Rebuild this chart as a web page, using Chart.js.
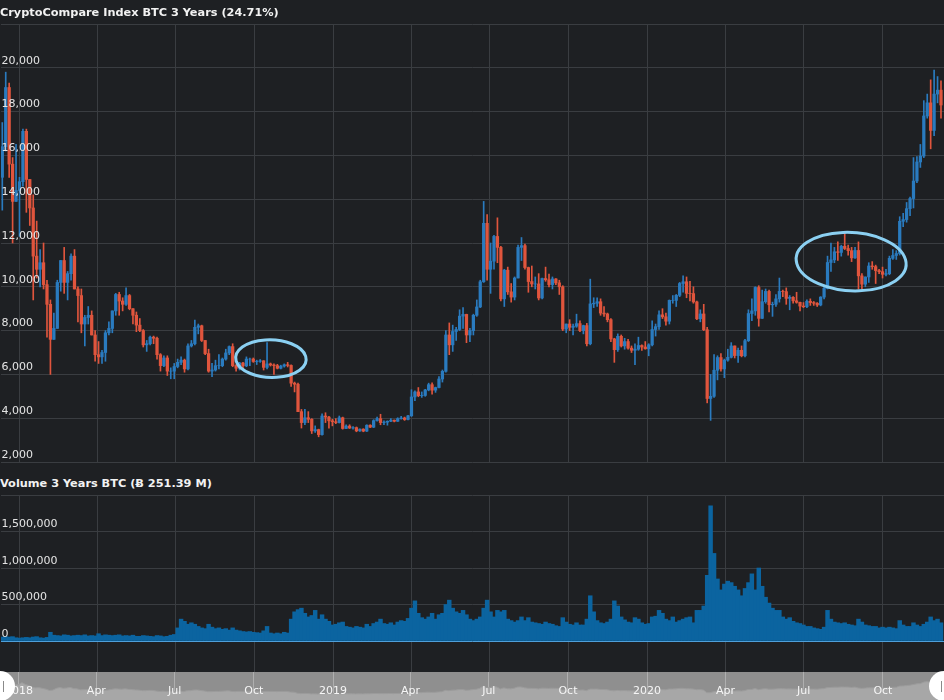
<!DOCTYPE html>
<html>
<head>
<meta charset="utf-8">
<script src="https://cdn.jsdelivr.net/npm/chart.js@4.4.1/dist/chart.umd.min.js"></script>
<style>
  body { margin: 0; background: #1e2023; }
  #wrap { position: relative; width: 944px; height: 700px; overflow: hidden; background: #1e2023; font-family: "DejaVu Sans", Verdana, sans-serif; }
  .title { position: absolute; left: 0; color: #f2f2f2; font-weight: bold; font-size: 11.3px; line-height: 14px; white-space: nowrap; z-index: 2; }
  canvas { position: absolute; left: 0; }
</style>
</head>
<body>
<div id="wrap">
  <div class="title" style="top:6px">CryptoCompare Index BTC 3 Years (24.71%)</div>
  <canvas id="priceChart" width="944" height="463" style="top:0"></canvas>
  <div class="title" style="top:477px">Volume 3 Years BTC (Ƀ 251.39 M)</div>
  <canvas id="volumeChart" width="944" height="177" style="top:495px"></canvas>
  <canvas id="navChart" width="944" height="36" style="top:664px"></canvas>
</div>
<script>
// candles are 4 days wide, first one starts 10 Dec 2017 (day -22 from 1 Jan 2018)
const startDay = -22;
const stepDays = 4;

const opens = [
  15000, 16400, 19100, 15600, 13900, 14400, 14800, 17100, 14900, 13600,
  11400, 10800, 11100, 10100, 9200, 7600, 8100, 10200, 11200, 10200,
  10600, 11400, 9900, 9600, 8300, 8600, 8700, 7800, 6900, 6800,
  7000, 7900, 8100, 8900, 9650, 9350, 9200, 9600, 9000, 8700,
  8250, 8000, 7350, 7400, 7700, 7650, 6900, 6400, 6750, 6150,
  6150, 6360, 6550, 6650, 6250, 7300, 7400, 8150, 8220, 7550,
  6950, 6150, 6200, 6400, 6400, 6700, 6980, 7270, 6400, 6280,
  6520, 6390, 6700, 6700, 6590, 6600, 6620, 6320, 6480, 6430,
  6400, 6280, 6380, 6440, 6410, 5600, 5550, 4300, 3800, 4020,
  3950, 3420, 3480, 3250, 4100, 4050, 3880, 3840, 3800, 4020,
  3530, 3640, 3550, 3570, 3420, 3500, 3410, 3680, 3590, 3890,
  3980, 3800, 3820, 3860, 3910, 3860, 3980, 4010, 3940, 4110,
  4970, 5200, 5030, 5040, 5290, 5530, 5280, 5400, 5790, 6140,
  7800, 7350, 7960, 8050, 8660, 8740, 7800, 8000, 8700, 9080,
  10230, 12900, 10800, 11170, 12300, 11800, 9450, 10760, 9770, 9530,
  10400, 11800, 11880, 10880, 10240, 10130, 10130, 9490, 10380, 10320,
  10100, 10360, 10180, 10000, 8070, 8300, 8150, 8200, 8320, 8000,
  8230, 7400, 9220, 9250, 9320, 8800, 8760, 8500, 7620, 7130,
  7740, 7300, 7500, 7200, 7100, 7150, 7320, 7250, 7170, 7350,
  8050, 8180, 8720, 8630, 8430, 9380, 9380, 9610, 10150, 10230,
  9700, 9690, 9310, 8540, 8760, 8040, 4900, 5000, 6190, 6770,
  6250, 6650, 6780, 7300, 6860, 7100, 6850, 7540, 8780, 8900,
  9970, 8560, 9320, 9790, 9180, 9200, 9450, 9790, 9780, 9470,
  9520, 9360, 9290, 9120, 9090, 9340, 9280, 9250, 9170, 9530,
  9930, 11110, 11230, 11600, 11570, 11850, 11750, 11650, 11320, 11660,
  10500, 10120, 10450, 10950, 10920, 10740, 10690, 10570, 10600, 11300,
  11430, 11520, 12990, 13070, 13570, 14030, 14830, 15700, 15970, 17800,
  18400, 17140, 18800, 18980
];

const closes = [
  16400, 19100, 15600, 13900, 14400, 14800, 17100, 14900, 13600, 11400,
  10800, 11100, 10100, 9200, 7600, 8100, 10200, 11200, 10200, 10600,
  11400, 9900, 9600, 8300, 8600, 8700, 7800, 6900, 6800, 7000,
  7900, 8100, 8900, 9650, 9350, 9200, 9600, 9000, 8700, 8250,
  8000, 7350, 7400, 7700, 7650, 6900, 6400, 6750, 6150, 6150,
  6360, 6550, 6650, 6250, 7300, 7400, 8150, 8220, 7550, 6950,
  6150, 6200, 6400, 6400, 6700, 6980, 7270, 6400, 6280, 6520,
  6390, 6700, 6700, 6590, 6600, 6620, 6320, 6480, 6430, 6400,
  6280, 6380, 6440, 6410, 5600, 5550, 4300, 3800, 4020, 3950,
  3420, 3480, 3250, 4100, 4050, 3880, 3840, 3800, 4020, 3530,
  3640, 3550, 3570, 3420, 3500, 3410, 3680, 3590, 3890, 3980,
  3800, 3820, 3860, 3910, 3860, 3980, 4010, 3940, 4110, 4970,
  5200, 5030, 5040, 5290, 5530, 5280, 5400, 5790, 6140, 7800,
  7350, 7960, 8050, 8660, 8740, 7800, 8000, 8700, 9080, 10230,
  12900, 10800, 11170, 12300, 11800, 9450, 10760, 9770, 9530, 10400,
  11800, 11880, 10880, 10240, 10130, 10130, 9490, 10380, 10320, 10100,
  10360, 10180, 10000, 8070, 8300, 8150, 8200, 8320, 8000, 8230,
  7400, 9220, 9250, 9320, 8800, 8760, 8500, 7620, 7130, 7740,
  7300, 7500, 7200, 7100, 7150, 7320, 7250, 7170, 7350, 8050,
  8180, 8720, 8630, 8430, 9380, 9380, 9610, 10150, 10230, 9700,
  9690, 9310, 8540, 8760, 8040, 4900, 5000, 6190, 6770, 6250,
  6650, 6780, 7300, 6860, 7100, 6850, 7540, 8780, 8900, 9970,
  8560, 9320, 9790, 9180, 9200, 9450, 9790, 9780, 9470, 9520,
  9360, 9290, 9120, 9090, 9340, 9280, 9250, 9170, 9530, 9930,
  11110, 11230, 11600, 11570, 11850, 11750, 11650, 11320, 11660, 10500,
  10120, 10450, 10950, 10920, 10740, 10690, 10570, 10600, 11300, 11430,
  11520, 12990, 13070, 13570, 14030, 14830, 15700, 15970, 17800, 18400,
  17140, 18800, 18980, 18300
];

const highs = [
  17500, 19800, 19300, 15900, 16500, 15000, 17200, 17200, 14900, 14200,
  13000, 11700, 12000, 10300, 9400, 8800, 10300, 11200, 11800, 10700,
  11500, 11700, 10000, 9900, 8700, 9100, 8900, 8000, 7500, 7100,
  8000, 8400, 8900, 9700, 9750, 9500, 9950, 9650, 9000, 8850,
  8550, 8050, 7550, 7750, 7750, 7700, 6950, 6850, 6850, 6300,
  6500, 6700, 6800, 6700, 7400, 7550, 8480, 8300, 8250, 7550,
  7150, 6500, 6650, 6900, 6750, 7150, 7300, 7400, 6450, 6550,
  6550, 6800, 6750, 6750, 6650, 6680, 6630, 7450, 6520, 6480,
  6460, 6420, 6480, 6550, 6440, 5650, 5600, 4400, 4400, 4300,
  3980, 3650, 3500, 4200, 4250, 4080, 3950, 3980, 4100, 4050,
  3700, 3700, 3620, 3600, 3520, 3520, 3700, 3700, 3930, 4050,
  4180, 3880, 3880, 3980, 3920, 4020, 4080, 4050, 4130, 5300,
  5250, 5400, 5200, 5320, 5600, 5620, 5420, 5900, 6200, 8000,
  8350, 8250, 8150, 8950, 9050, 8750, 8100, 8750, 9400, 10300,
  13900, 13300, 12000, 12350, 13150, 11850, 10800, 10900, 10150, 10450,
  11900, 12250, 11950, 10900, 10950, 10450, 10600, 10400, 10900, 10580,
  10450, 10380, 10300, 10050, 8300, 8500, 8300, 8750, 8450, 8250,
  8330, 10350, 9500, 9500, 9450, 9100, 8800, 8550, 7650, 7850,
  7800, 7650, 7600, 7300, 7400, 7700, 7350, 7500, 7400, 8450,
  8300, 8900, 9000, 8800, 9400, 9600, 9650, 10200, 10500, 10450,
  10250, 10000, 9350, 8950, 9200, 8150, 6000, 6900, 6850, 6950,
  6700, 7150, 7450, 7300, 7200, 7300, 7600, 8950, 9450, 10000,
  10050, 9850, 9900, 9850, 9300, 9650, 10400, 9850, 9950, 9600,
  9550, 9750, 9300, 9280, 9400, 9450, 9330, 9280, 9550, 10000,
  11400, 12000, 11800, 12050, 11900, 12450, 11900, 11800, 11800, 12050,
  10600, 10450, 11100, 11150, 10990, 10800, 10900, 10800, 11400, 11700,
  11650, 13200, 13350, 13850, 14100, 15900, 15950, 16500, 18500, 18800,
  19450, 19900, 19600, 19400
];

const lows = [
  13500, 16200, 15000, 12000, 13900, 12300, 14600, 13400, 12800, 9400,
  10400, 10000, 9900, 7700, 6000, 7600, 8100, 9800, 9700, 9400,
  10300, 9900, 8400, 7900, 7300, 8300, 7800, 6600, 6500, 6500,
  6600, 7800, 7900, 8700, 8700, 8900, 9150, 8950, 8300, 7950,
  7950, 7250, 7050, 7350, 7400, 6700, 6150, 6350, 5950, 5800,
  5800, 6300, 6450, 6100, 6200, 7250, 7350, 7850, 7500, 6900,
  6100, 5900, 6150, 6250, 6350, 6650, 6900, 6350, 6150, 6200,
  6250, 6350, 6400, 6550, 6450, 6550, 6200, 6250, 6380, 6000,
  6250, 6250, 6330, 6340, 5450, 5200, 4300, 3550, 3700, 3800,
  3300, 3350, 3150, 3220, 3800, 3550, 3650, 3750, 3780, 3500,
  3520, 3530, 3500, 3380, 3400, 3380, 3390, 3570, 3570, 3870,
  3700, 3700, 3680, 3840, 3830, 3850, 3960, 3900, 3920, 4080,
  4800, 4980, 4950, 5000, 5250, 5100, 5180, 5380, 5650, 6100,
  6900, 7050, 7550, 8000, 8100, 7450, 7500, 7800, 8650, 9050,
  10200, 10300, 9700, 10800, 11100, 9350, 9100, 9650, 9300, 9400,
  10400, 11200, 10800, 9750, 10000, 9900, 9400, 9450, 10250, 10000,
  9900, 10100, 9650, 8000, 7900, 8000, 7800, 8150, 7950, 7850,
  7300, 7350, 9050, 9100, 8700, 8650, 8400, 7500, 6550, 7050,
  7250, 7150, 7150, 7000, 6450, 7100, 7100, 7150, 6850, 7300,
  7750, 8050, 8550, 8250, 8300, 9250, 9100, 9550, 9750, 9500,
  9350, 9250, 8500, 8400, 8000, 4700, 3900, 4950, 5750, 6150,
  5850, 6600, 6750, 6750, 6550, 6800, 6800, 7500, 8450, 8700,
  8200, 8550, 9250, 8850, 8650, 9100, 9300, 9550, 9200, 8950,
  9250, 9250, 8900, 9050, 9050, 9150, 9150, 9100, 9130, 9450,
  9900, 10700, 11100, 11200, 11400, 11700, 11450, 11150, 11300, 9900,
  9900, 10000, 10200, 10800, 10150, 10600, 10400, 10500, 10550, 11250,
  11250, 11450, 12750, 12950, 13250, 13600, 14750, 15450, 15900, 17700,
  16300, 16900, 18400, 17700
];

const volumes = [
  55000, 60000, 55000, 60000, 45000, 40000, 45000, 50000, 45000, 55000,
  60000, 45000, 40000, 50000, 120000, 80000, 75000, 70000, 85000, 80000,
  70000, 75000, 80000, 75000, 85000, 70000, 75000, 70000, 100000, 75000,
  85000, 80000, 75000, 80000, 85000, 70000, 75000, 70000, 80000, 65000,
  65000, 75000, 70000, 65000, 60000, 75000, 70000, 60000, 65000, 80000,
  90000, 180000, 300000, 270000, 230000, 250000, 230000, 200000, 180000, 170000,
  230000, 190000, 170000, 180000, 160000, 170000, 150000, 180000, 150000, 140000,
  130000, 125000, 130000, 120000, 115000, 110000, 140000, 200000, 110000, 100000,
  110000, 100000, 120000, 110000, 300000, 400000, 430000, 450000, 380000, 330000,
  350000, 420000, 300000, 360000, 300000, 270000, 220000, 230000, 250000, 260000,
  200000, 190000, 180000, 200000, 190000, 180000, 230000, 200000, 240000, 260000,
  300000, 240000, 230000, 250000, 220000, 260000, 280000, 270000, 310000, 450000,
  550000, 380000, 320000, 300000, 330000, 380000, 300000, 360000, 380000, 500000,
  560000, 450000, 400000, 380000, 420000, 360000, 300000, 280000, 300000, 330000,
  450000, 560000, 400000, 330000, 420000, 400000, 420000, 300000, 280000, 260000,
  280000, 330000, 280000, 320000, 260000, 250000, 240000, 230000, 260000, 240000,
  230000, 210000, 200000, 320000, 260000, 230000, 220000, 250000, 220000, 220000,
  300000, 620000, 400000, 280000, 250000, 240000, 260000, 300000, 550000, 480000,
  330000, 290000, 260000, 250000, 320000, 300000, 250000, 230000, 240000, 330000,
  340000, 420000, 380000, 300000, 280000, 330000, 260000, 280000, 300000, 320000,
  330000, 250000, 420000, 420000, 480000, 900000, 1850000, 1200000, 850000, 700000,
  780000, 820000, 800000, 750000, 700000, 620000, 720000, 800000, 920000, 700000,
  1000000, 750000, 600000, 520000, 450000, 420000, 420000, 330000, 300000, 320000,
  270000, 250000, 240000, 220000, 200000, 200000, 180000, 170000, 160000, 190000,
  420000, 300000, 260000, 250000, 240000, 250000, 230000, 220000, 210000, 300000,
  260000, 220000, 210000, 200000, 200000, 180000, 190000, 180000, 190000, 180000,
  170000, 280000, 220000, 200000, 200000, 250000, 220000, 200000, 230000, 260000,
  330000, 280000, 300000, 250000
];

// quarter gridlines, days from 1 Jan 2018
const quarterDays = [0, 90, 181, 273, 365, 455, 546, 638, 730, 821, 912, 1004];
const quarterLabels = ['2018', 'Apr', 'Jul', 'Oct', '2019', 'Apr', 'Jul', 'Oct', '2020', 'Apr', 'Jul', 'Oct'];
const volumeTicks = [0, 500000, 1000000, 1500000, 2000000];

// hand drawn rings on the price chart (centre day / price, half size)
const rings = [
  { day: 292, price: 6720, halfDays: 41, halfPrice: 860, tilt: 0.03 },
  { day: 967, price: 11150, halfDays: 64, halfPrice: 1330, tilt: 0.06 }
];

const UP = '#2a7bbf';
const DOWN = '#e0553d';
const GRID = '#3a3d41';
const LABEL = '#e4e4e4';
const VOL = '#0b64a0';
const ZERO = '#4f9fd8';
const NAV_BG = '#8f8f8f';
const NAV_FILL = '#a7a7a7';

const xMin = -22, xMax = 1075;
const dayOf = i => startDay + stepDays * i + 1.5;

Chart.defaults.font.family = '"DejaVu Sans", Verdana, sans-serif';

const noPad = s => { s.paddingTop = 0; s.paddingBottom = 0; };
const quarterTicks = s => { s.ticks = quarterDays.map(v => ({ value: v })); };
const candleColor = c => closes[c.dataIndex] >= opens[c.dataIndex] ? UP : DOWN;

const xAxis = (gridColor) => ({
  type: 'linear', min: xMin, max: xMax, offset: false,
  afterBuildTicks: quarterTicks,
  ticks: { display: false },
  grid: { color: gridColor, drawTicks: false, offset: false },
  border: { display: false }
});

const ringPlugin = {
  id: 'rings',
  afterDatasetsDraw(chart) {
    const { ctx, scales: { x, y } } = chart;
    ctx.save();
    ctx.strokeStyle = '#8bd0f2';
    ctx.lineWidth = 3;
    ctx.lineCap = 'round';
    rings.forEach(r => {
      const cx = x.getPixelForValue(r.day);
      const cy = y.getPixelForValue(r.price);
      const rx = Math.abs(x.getPixelForValue(r.day + r.halfDays) - cx);
      const ry = Math.abs(y.getPixelForValue(r.price + r.halfPrice) - cy);
      ctx.beginPath();
      ctx.ellipse(cx, cy, rx, ry, r.tilt, -1.75, -1.75 + Math.PI * 2 + 0.3);
      ctx.stroke();
    });
    ctx.restore();
  }
};

new Chart(document.getElementById('priceChart'), {
  type: 'bar',
  data: {
    datasets: [
      {
        data: lows.map((l, i) => ({ x: dayOf(i), y: [l, highs[i]] })),
        backgroundColor: candleColor, barThickness: 1, grouped: false, order: 2
      },
      {
        data: opens.map((o, i) => ({ x: dayOf(i), y: [o, closes[i]] })),
        backgroundColor: candleColor, barThickness: 2.6, grouped: false, order: 1
      }
    ]
  },
  options: {
    responsive: false,
    animation: false,
    layout: { padding: { top: 24, bottom: 1, left: 0, right: 0 } },
    plugins: { legend: { display: false }, tooltip: { enabled: false } },
    scales: {
      x: xAxis(GRID),
      y: {
        min: 2000, max: 22000,
        afterFit: noPad,
        ticks: {
          stepSize: 2000, mirror: true, padding: 0.5, labelOffset: -7, z: 1,
          color: LABEL, font: { size: 11 },
          callback: v => v === 22000 ? '' : v.toLocaleString('en-US')
        },
        grid: { color: GRID, drawTicks: false },
        border: { display: false }
      }
    }
  },
  plugins: [ringPlugin]
});

// light blue base line under the volume bars
const zeroLine = {
  id: 'zeroLine',
  afterDatasetsDraw(chart) {
    const { ctx, chartArea: a, scales: { y } } = chart;
    const py = Math.round(y.getPixelForValue(0)) + 0.5;
    ctx.save();
    ctx.strokeStyle = ZERO;
    ctx.lineWidth = 1;
    ctx.beginPath();
    ctx.moveTo(a.left, py);
    ctx.lineTo(a.right, py);
    ctx.stroke();
    ctx.restore();
  }
};

new Chart(document.getElementById('volumeChart'), {
  type: 'bar',
  data: {
    datasets: [{
      data: volumes.map((v, i) => ({ x: dayOf(i), y: v })),
      backgroundColor: VOL, barThickness: 3.8, grouped: false
    }]
  },
  options: {
    responsive: false,
    animation: false,
    layout: { padding: 0 },
    plugins: { legend: { display: false }, tooltip: { enabled: false } },
    scales: {
      x: xAxis(GRID),
      y: {
        min: -424000, max: 2000000,
        afterFit: noPad,
        afterBuildTicks: s => { s.ticks = volumeTicks.map(v => ({ value: v })); },
        ticks: {
          mirror: true, padding: 0.5, labelOffset: -7, z: 1,
          color: LABEL, font: { size: 11 },
          callback: v => v === 2000000 ? '' : v.toLocaleString('en-US')
        },
        grid: { color: GRID, drawTicks: false },
        border: { display: false }
      }
    }
  },
  plugins: [zeroLine]
});

const navPlugin = {
  id: 'navDecor',
  beforeDraw(chart) {
    const { ctx, chartArea: a } = chart;
    ctx.save();
    ctx.fillStyle = NAV_BG;
    ctx.fillRect(a.left, a.top, a.right - a.left, a.bottom - a.top);
    ctx.restore();
  },
  afterDraw(chart) {
    const { ctx, chartArea: a, scales: { x } } = chart;
    ctx.save();
    ctx.font = '11px "DejaVu Sans"';
    ctx.fillStyle = '#f6f6f6';
    ctx.textAlign = 'center';
    ctx.textBaseline = 'middle';
    quarterDays.forEach((d, k) => ctx.fillText(quarterLabels[k], x.getPixelForValue(d), a.top + 19));
    // range handles
    [a.left, a.right].forEach((px, k) => {
      ctx.beginPath();
      ctx.arc(px, a.top + 14, 15, 0, Math.PI * 2);
      ctx.fillStyle = '#ffffff';
      ctx.fill();
      const lx = k === 0 ? px + 3 : px - 3;
      ctx.strokeStyle = '#8a8a8a';
      ctx.lineWidth = 1;
      ctx.beginPath();
      ctx.moveTo(lx + 0.5, a.top + 9);
      ctx.lineTo(lx + 0.5, a.top + 20);
      ctx.stroke();
    });
    ctx.restore();
  }
};

new Chart(document.getElementById('navChart'), {
  type: 'line',
  data: {
    datasets: [{
      data: closes.map((c, i) => ({ x: dayOf(i), y: c })),
      borderColor: '#9c9c9c', borderWidth: 1,
      backgroundColor: NAV_FILL, fill: 'start',
      pointRadius: 0, tension: 0
    }]
  },
  options: {
    responsive: false,
    animation: false,
    layout: { padding: { top: 8 } },
    plugins: { legend: { display: false }, tooltip: { enabled: false } },
    scales: {
      x: xAxis('rgba(235,235,235,0.35)'),
      y: { display: false, min: -4000, max: 30000 }
    }
  },
  plugins: [navPlugin]
});
</script>
</body>
</html>
